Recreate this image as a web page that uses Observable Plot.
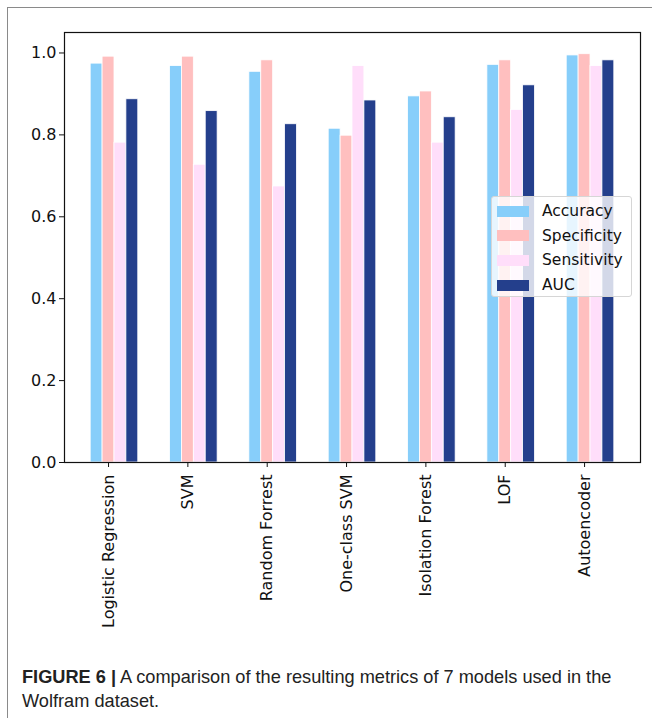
<!DOCTYPE html>
<html>
<head>
<meta charset="utf-8">
<script src="https://cdn.jsdelivr.net/npm/d3@7"></script>
<script src="https://cdn.jsdelivr.net/npm/@observablehq/plot@0.6"></script>
<style>
  html, body { margin: 0; padding: 0; background: #fff; width: 652px; height: 718px; overflow: hidden; }
  #frame { position: absolute; left: 7px; top: 7px; width: 660px; height: 720px;
           border-left: 1.5px solid #8a8a8a; border-top: 1.5px solid #8a8a8a; }
  #chart { position: absolute; left: 0; top: 0; }
  #legend { position: absolute; left: 491px; top: 196px; width: 139px; height: 99px;
            background: rgba(255,255,255,0.8); border: 1px solid #d6d6d6; border-radius: 3px;
            font-family: "DejaVu Sans", sans-serif; font-size: 15.5px; color: #111; }
  .row { position: absolute; left: 0; height: 20px; display: flex; align-items: center; }
  .sw { position: absolute; left: 5px; width: 32px; height: 11px; }
  .lab { position: absolute; left: 50px; white-space: nowrap; line-height: 20px; }
  #caption { position: absolute; left: 22px; top: 665px; font-family: "Liberation Sans Narrow", "Liberation Sans", sans-serif;
             font-size: 18.2px; line-height: 24px; color: #222; white-space: nowrap; }
  #caption b { font-family: "Liberation Sans", sans-serif; font-weight: bold; }
</style>
</head>
<body>
<div id="frame"></div>
<div id="chart"></div>
<div id="legend"></div>
<div id="caption"><b>FIGURE 6 |</b> A comparison of the resulting metrics of 7 models used in the<br>Wolfram dataset.</div>
<script>
const models = ["Logistic Regression", "SVM", "Random Forrest", "One-class SVM", "Isolation Forest", "LOF", "Autoencoder"];
const metrics = ["Accuracy", "Specificity", "Sensitivity", "AUC"];
const colors = ["#87cefa", "#ffbfbf", "#ffdefa", "#243f8c"];
const accuracy    = [0.974, 0.968, 0.954, 0.815, 0.894, 0.971, 0.994];
const specificity = [0.991, 0.991, 0.982, 0.798, 0.906, 0.982, 0.997];
const sensitivity = [0.781, 0.727, 0.674, 0.968, 0.781, 0.861, 0.968];
const auc         = [0.887, 0.858, 0.826, 0.884, 0.843, 0.921, 0.982];
const yTicks = [0, 0.2, 0.4, 0.6, 0.8, 1.0];
const barWidth = 0.15;

const series = [accuracy, specificity, sensitivity, auc];
const data = [];
models.forEach((m, i) => {
  metrics.forEach((k, j) => {
    data.push({model: m, i, metric: k, j, value: series[j][i]});
  });
});

const chart = Plot.plot({
  width: 652,
  height: 640,
  marginLeft: 64,
  marginRight: 12,
  marginTop: 32,
  marginBottom: 178,
  style: {fontFamily: "DejaVu Sans, sans-serif", fontSize: "16px", color: "#111", background: "transparent"},
  x: {domain: [-0.555, 6.705]},
  y: {domain: [0, 1.05]},
  color: {domain: metrics, range: colors},
  marks: [
    Plot.rect(data, {
      x1: d => d.i + (d.j - 1) * barWidth - barWidth / 2,
      x2: d => d.i + (d.j - 1) * barWidth + barWidth / 2,
      y1: 0, y2: "value",
      fill: "metric", stroke: "white", strokeWidth: 0.8
    }),
    Plot.frame({stroke: "#111", strokeWidth: 1.2}),
    Plot.axisY({ticks: yTicks, tickFormat: d3.format(".1f"), tickSize: 5, tickPadding: 3, label: null, stroke: "#111", fontSize: 16}),
    Plot.axisX({ticks: d3.range(models.length), tickFormat: i => models[i], tickRotate: -90,
                tickSize: 5, tickPadding: 7, label: null, stroke: "#111", fontSize: 16})
  ]
});
document.getElementById("chart").appendChild(chart);

const legend = document.getElementById("legend");
metrics.forEach((k, j) => {
  const row = document.createElement("div");
  row.className = "row";
  row.style.top = (4 + j * 24.7) + "px";
  row.innerHTML = `<span class="sw" style="background:${colors[j]}"></span><span class="lab">${k}</span>`;
  legend.appendChild(row);
});
</script>
</body>
</html>
